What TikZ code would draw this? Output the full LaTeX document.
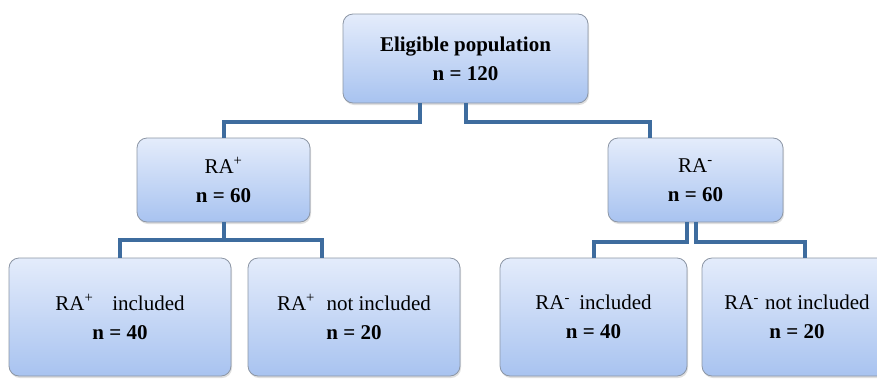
\documentclass[tikz,border=0pt]{standalone}
\usepackage{fontspec}
\setmainfont{Liberation Serif}
\usepackage{tikz}
\usetikzlibrary{positioning, calc, shadows}
\definecolor{BoxTop}{RGB}{228,236,251}
\definecolor{BoxBottom}{RGB}{168,195,240}
\definecolor{BoxBorder}{RGB}{140,150,165}
\definecolor{LinkBlue}{RGB}{62,108,158}

\begin{document}
\begin{tikzpicture}[x=1pt,y=-1pt,
    box/.style={draw=BoxBorder,line width=0.8pt,top color=BoxTop,bottom color=BoxBottom,
                rounded corners=10pt,align=center,inner sep=0pt,
                font=\fontsize{21}{29}\selectfont,
                drop shadow={opacity=0.25,shadow xshift=1pt,shadow yshift=-2pt}},
    conn/.style={LinkBlue,line width=4pt}
  ]
    \useasboundingbox (0,0) rectangle (877,378);
    % levels
    \node[box,minimum width=245pt,minimum height=89pt] (T) at (465.5,58.5) {\textbf{Eligible population}\\\textbf{n = 120}};
    \node[box,minimum width=173pt,minimum height=84pt] (P) at (223.5,180) {RA\textsuperscript{+}\\\textbf{n = 60}};
    \node[box,minimum width=175pt,minimum height=84pt] (M) at (695.5,180) {RA\textsuperscript{-}\\\textbf{n = 60}};
    \node[box,minimum width=222pt,minimum height=118pt] (PI) at (120,317) {RA\textsuperscript{+}\hspace{0.9em}included\\\textbf{n = 40}};
    \node[box,minimum width=212pt,minimum height=118pt] (PN) at (354,317) {RA\textsuperscript{+}\hspace{0.55em}not included\\\textbf{n = 20}};
    \node[box,minimum width=187pt,minimum height=118pt] (MI) at (593.5,317) {RA\textsuperscript{-}\hspace{0.45em}included\\\textbf{n = 40}};
    \node[box,minimum width=190pt,minimum height=118pt] (MN) at (797,317) {RA\textsuperscript{-}\hspace{0.3em}not included\\\textbf{n = 20}};
    % links
    \draw[conn] ([xshift=-45.5pt]T.south) -- ++(0,19) -| (P.north);
    \draw[conn] (T.south) -- ++(0,19) -| ([xshift=-45.5pt]M.north);
    \draw[conn] (P.south) -- ++(0,18) coordinate (pj) -| (PI.north);
    \draw[conn] (pj) -| ([xshift=-32pt]PN.north);
    \draw[conn] ([xshift=-8.5pt]M.south) -- ++(0,20) -| (MI.north);
    \draw[conn] (M.south) -- ++(0,20) -| ([xshift=8pt]MN.north);
  \end{tikzpicture}
\end{document}
